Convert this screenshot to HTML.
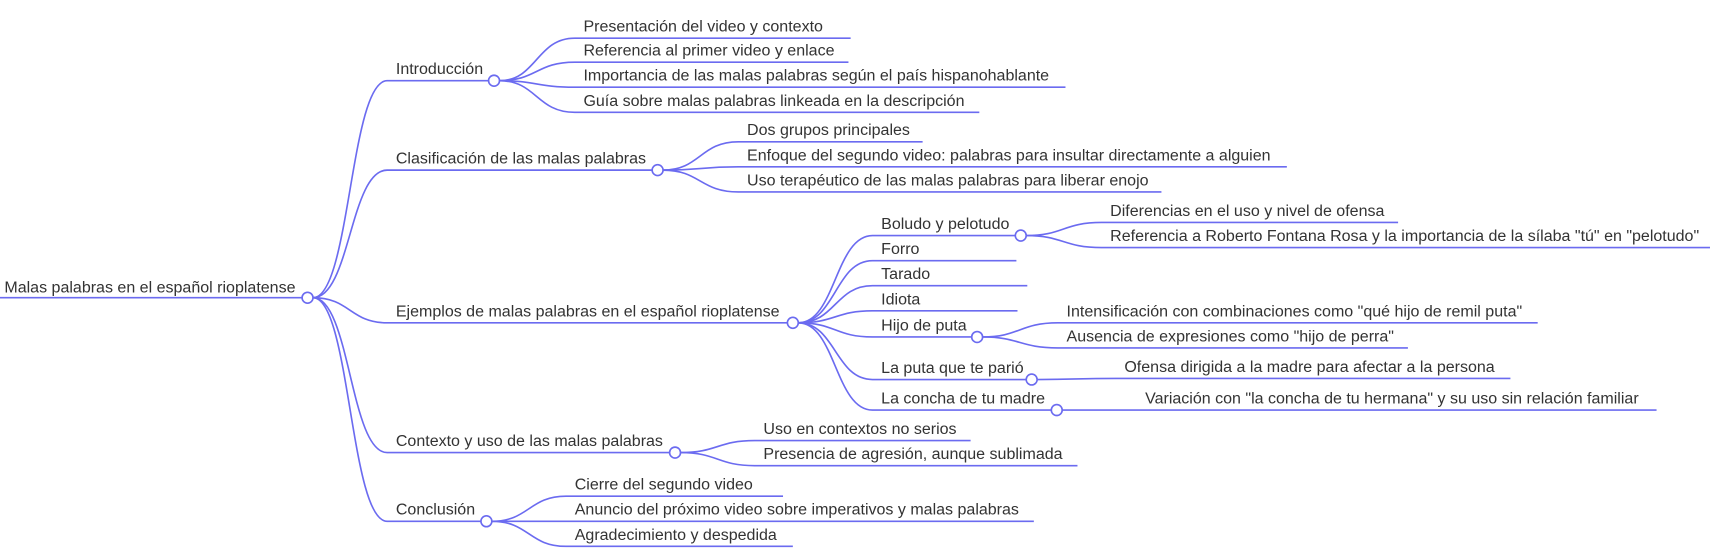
<!DOCTYPE html>
<html><head><meta charset="utf-8"><style>
html,body{margin:0;padding:0;background:#fff;}
svg{display:block;}
text{font-family:"Liberation Sans",Arial,sans-serif;font-size:14.7px;fill:#333;}
path{fill:none;stroke:#6b6bf0;stroke-width:1.5;}
circle{fill:#fff;stroke:#6b6bf0;stroke-width:1.5;}
</style></head><body>
<svg width="1710" height="554" viewBox="0 0 1568 508" xmlns="http://www.w3.org/2000/svg">
<path d="M0 273 H277"/>
<text x="4" y="268">Malas palabras en el español rioplatense</text>
<path d="M287 273 C321 273 321 74 355 74 H448"/>
<path d="M287 273 C321 273 321 156 355 156 H598"/>
<path d="M287 273 C321 273 321 296 355 296 H722"/>
<path d="M287 273 C321 273 321 415 355 415 H614"/>
<path d="M287 273 C321 273 321 478 355 478 H441"/>
<text x="363" y="68">Introducción</text>
<text x="363" y="150">Clasificación de las malas palabras</text>
<text x="363" y="290">Ejemplos de malas palabras en el español rioplatense</text>
<text x="363" y="409">Contexto y uso de las malas palabras</text>
<text x="363" y="472">Conclusión</text>
<path d="M458 74 C492 74 492 35 527 35 H780"/>
<path d="M458 74 C492 74 492 57 527 57 H778"/>
<path d="M458 74 C492 74 492 80 527 80 H977"/>
<path d="M458 74 C492 74 492 103 527 103 H898"/>
<text x="535" y="29">Presentación del video y contexto</text>
<text x="535" y="51">Referencia al primer video y enlace</text>
<text x="535" y="74">Importancia de las malas palabras según el país hispanohablante</text>
<text x="535" y="97">Guía sobre malas palabras linkeada en la descripción</text>
<path d="M608 156 C642 156 642 130 677 130 H846"/>
<path d="M608 156 C642 156 642 153 677 153 H1180"/>
<path d="M608 156 C642 156 642 176 677 176 H1065"/>
<text x="685" y="124">Dos grupos principales</text>
<text x="685" y="147">Enfoque del segundo video: palabras para insultar directamente a alguien</text>
<text x="685" y="170">Uso terapéutico de las malas palabras para liberar enojo</text>
<path d="M732 296 C766 296 766 216 800 216 H931"/>
<path d="M732 296 C766 296 766 239 800 239 H932"/>
<path d="M732 296 C766 296 766 262 800 262 H942"/>
<path d="M732 296 C766 296 766 285 800 285 H933"/>
<path d="M732 296 C766 296 766 309 800 309 H891"/>
<path d="M732 296 C766 296 766 348 800 348 H941"/>
<path d="M732 296 C766 296 766 376 800 376 H964"/>
<text x="808" y="210">Boludo y pelotudo</text>
<text x="808" y="233">Forro</text>
<text x="808" y="256">Tarado</text>
<text x="808" y="279">Idiota</text>
<text x="808" y="303">Hijo de puta</text>
<text x="808" y="342">La puta que te parió</text>
<text x="808" y="370">La concha de tu madre</text>
<path d="M941 216 C975 216 975 204 1010 204 H1282"/>
<path d="M941 216 C975 216 975 227 1010 227 H1568"/>
<text x="1018" y="198">Diferencias en el uso y nivel de ofensa</text>
<text x="1018" y="221">Referencia a Roberto Fontana Rosa y la importancia de la sílaba "tú" en "pelotudo"</text>
<path d="M901 309 C935 309 935 296 970 296 H1410"/>
<path d="M901 309 C935 309 935 319 970 319 H1291"/>
<text x="978" y="290">Intensificación con combinaciones como "qué hijo de remil puta"</text>
<text x="978" y="313">Ausencia de expresiones como "hijo de perra"</text>
<path d="M951 348 C987 348 987 347 1023 347 H1385"/>
<text x="1031" y="341">Ofensa dirigida a la madre para afectar a la persona</text>
<path d="M974 376 C1008 376 1008 376 1042 376 H1519"/>
<text x="1050" y="370">Variación con "la concha de tu hermana" y su uso sin relación familiar</text>
<path d="M624 415 C658 415 658 404 692 404 H890"/>
<path d="M624 415 C658 415 658 427 692 427 H988"/>
<text x="700" y="398">Uso en contextos no serios</text>
<text x="700" y="421">Presencia de agresión, aunque sublimada</text>
<path d="M451 478 C485 478 485 455 519 455 H718"/>
<path d="M451 478 C485 478 485 478 519 478 H948"/>
<path d="M451 478 C485 478 485 501 519 501 H727"/>
<text x="527" y="449">Cierre del segundo video</text>
<text x="527" y="472">Anuncio del próximo video sobre imperativos y malas palabras</text>
<text x="527" y="495">Agradecimiento y despedida</text>
<circle cx="282" cy="273" r="5"/>
<circle cx="453" cy="74" r="5"/>
<circle cx="603" cy="156" r="5"/>
<circle cx="727" cy="296" r="5"/>
<circle cx="619" cy="415" r="5"/>
<circle cx="446" cy="478" r="5"/>
<circle cx="936" cy="216" r="5"/>
<circle cx="896" cy="309" r="5"/>
<circle cx="946" cy="348" r="5"/>
<circle cx="969" cy="376" r="5"/>
</svg>
</body></html>
